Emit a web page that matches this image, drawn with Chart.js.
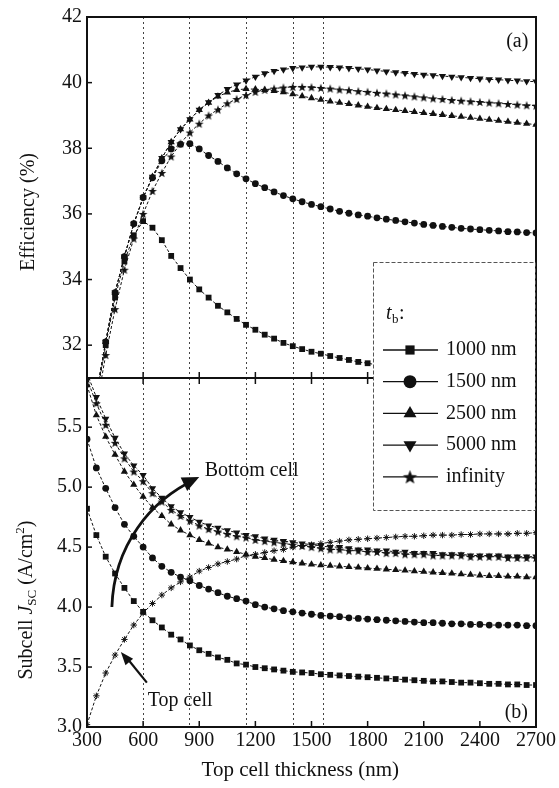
<!DOCTYPE html>
<html>
<head>
<meta charset="utf-8">
<script src="https://cdn.jsdelivr.net/npm/chart.js@4.4.0/dist/chart.umd.min.js"></script>
<style>
  html, body { margin: 0; padding: 0; background: #fff; }
  #wrap { position: relative; width: 559px; height: 788px; }
  #wrap canvas { position: absolute; left: 0; top: 0; }
</style>
</head>
<body>
<div id="wrap">
  <canvas id="eff" width="559" height="788"></canvas>
  <canvas id="jsc" width="559" height="788"></canvas>
</div>
<script>
// Top cell thickness (nm)
const thickness = [
  300, 350, 400, 450, 500, 550, 600, 650, 700, 750,
  800, 850, 900, 950, 1000, 1050, 1100, 1150, 1200, 1250,
  1300, 1350, 1400, 1450, 1500, 1550, 1600, 1650, 1700, 1750,
  1800, 1850, 1900, 1950, 2000, 2050, 2100, 2150, 2200, 2250,
  2300, 2350, 2400, 2450, 2500, 2550, 2600, 2650, 2700,
];

// (a) efficiency (%) for each bottom cell thickness t_b
const eff1000 = [
  28.8, 30.4, 32.0, 33.45, 34.55, 35.35, 35.78, 35.58, 35.2, 34.72,
  34.35, 34.0, 33.7, 33.45, 33.2, 33.0, 32.8, 32.62, 32.47, 32.32,
  32.2, 32.07, 31.97, 31.88, 31.8, 31.74, 31.67, 31.61, 31.55, 31.49,
  31.45, 31.4, 31.36, 31.32, 31.28, 31.25, 31.22, 31.19, 31.16, 31.14,
  31.12, 31.1, 31.08, 31.06, 31.04, 31.03, 31.02, 31.01, 31.0,
];
const eff1500 = [
  29.0, 30.5, 32.1, 33.6, 34.7, 35.7, 36.5, 37.1, 37.62, 37.98,
  38.12, 38.14, 37.98, 37.78, 37.6, 37.4, 37.22, 37.07, 36.92, 36.8,
  36.67, 36.56, 36.46, 36.37, 36.29, 36.22, 36.15, 36.08, 36.02, 35.97,
  35.93, 35.88, 35.84, 35.8, 35.76, 35.72, 35.68, 35.65, 35.62, 35.59,
  35.56, 35.54, 35.52, 35.5, 35.48, 35.46, 35.45, 35.43, 35.42,
];
const eff2500 = [
  29.0, 30.5, 32.1, 33.6, 34.7, 35.7, 36.5, 37.13, 37.7, 38.19,
  38.58, 38.88, 39.17, 39.39, 39.58, 39.7, 39.78, 39.81, 39.8, 39.78,
  39.75, 39.71, 39.65, 39.59, 39.53, 39.48, 39.43, 39.39, 39.35, 39.31,
  39.27, 39.23, 39.2, 39.17, 39.14, 39.11, 39.08, 39.05, 39.02, 38.99,
  38.96, 38.93, 38.9, 38.87, 38.84, 38.81, 38.78, 38.75, 38.72,
];
const eff5000 = [
  29.0, 30.5, 32.1, 33.6, 34.7, 35.7, 36.5, 37.13, 37.7, 38.19,
  38.58, 38.88, 39.17, 39.4, 39.62, 39.8, 39.94, 40.06, 40.18, 40.28,
  40.35, 40.4, 40.44, 40.46, 40.48, 40.48, 40.47, 40.46, 40.44, 40.42,
  40.4, 40.37, 40.34, 40.31, 40.29, 40.26, 40.24, 40.22, 40.2, 40.18,
  40.16, 40.14, 40.12, 40.1, 40.09, 40.07, 40.06, 40.04, 40.03,
];
const effInf = [
  28.6, 30.1, 31.7, 33.1, 34.3, 35.25, 36.0, 36.7, 37.25, 37.75,
  38.15, 38.48, 38.75, 39.0, 39.18, 39.37, 39.5, 39.62, 39.72, 39.78,
  39.82, 39.85, 39.87, 39.87, 39.86, 39.84, 39.82, 39.79, 39.77, 39.74,
  39.72, 39.69, 39.67, 39.64, 39.61, 39.58, 39.55, 39.52, 39.5, 39.47,
  39.45, 39.43, 39.41, 39.39, 39.37, 39.35, 39.33, 39.31, 39.3,
];

// (b) subcell Jsc (A/cm2): bottom cell for each t_b, and the top cell
const jsc1000 = [
  4.82, 4.6, 4.42, 4.28, 4.16, 4.05, 3.96, 3.89, 3.83, 3.77,
  3.73, 3.68, 3.64, 3.61, 3.58, 3.56, 3.53, 3.52, 3.5, 3.49,
  3.48, 3.47, 3.46, 3.455, 3.45, 3.44, 3.435, 3.43, 3.425, 3.42,
  3.415, 3.41, 3.405, 3.4, 3.395, 3.39, 3.385, 3.38, 3.38, 3.375,
  3.37, 3.37, 3.365, 3.36, 3.36, 3.355, 3.355, 3.35, 3.35,
];
const jsc1500 = [
  5.4, 5.16, 4.99, 4.83, 4.69, 4.59, 4.5, 4.41, 4.34, 4.29,
  4.25, 4.22, 4.18, 4.15, 4.12, 4.09, 4.07, 4.05, 4.02, 4.0,
  3.985, 3.97, 3.96, 3.95, 3.94, 3.93, 3.925, 3.92, 3.91, 3.905,
  3.9, 3.895, 3.89, 3.885, 3.88, 3.875, 3.87, 3.87, 3.865, 3.86,
  3.86, 3.855, 3.855, 3.85, 3.85, 3.85, 3.85, 3.845, 3.845,
];
const jsc2500 = [
  5.85, 5.6, 5.42, 5.27, 5.13, 5.02, 4.92, 4.83, 4.76, 4.69,
  4.64, 4.6, 4.56, 4.53, 4.5, 4.48, 4.46, 4.44, 4.42, 4.41,
  4.395, 4.385, 4.375, 4.365, 4.355, 4.35, 4.345, 4.34, 4.335, 4.33,
  4.325, 4.32, 4.315, 4.31, 4.305, 4.3, 4.295, 4.29, 4.285, 4.28,
  4.275, 4.27, 4.265, 4.26, 4.26, 4.255, 4.255, 4.25, 4.25,
];
const jsc5000 = [
  5.95, 5.75, 5.57, 5.41, 5.28, 5.18, 5.1, 4.99, 4.91, 4.84,
  4.79, 4.75, 4.71, 4.68, 4.66, 4.64, 4.62, 4.6, 4.59, 4.57,
  4.56, 4.55, 4.54, 4.53, 4.52, 4.51, 4.5, 4.5, 4.49, 4.48,
  4.48, 4.47, 4.47, 4.46, 4.46, 4.45, 4.45, 4.45, 4.44, 4.44,
  4.44, 4.43, 4.43, 4.43, 4.43, 4.42, 4.42, 4.42, 4.42,
];
const jscInf = [
  5.9, 5.7, 5.52, 5.37, 5.24, 5.13, 5.05, 4.95, 4.88, 4.81,
  4.76, 4.72, 4.68, 4.65, 4.63, 4.61, 4.59, 4.58, 4.56, 4.55,
  4.54, 4.53, 4.52, 4.51, 4.5, 4.49, 4.48, 4.48, 4.47, 4.47,
  4.46, 4.46, 4.45, 4.45, 4.44, 4.44, 4.44, 4.43, 4.43, 4.43,
  4.43, 4.42, 4.42, 4.42, 4.42, 4.41, 4.41, 4.41, 4.41,
];
const jscTop = [
  3.02, 3.26, 3.45, 3.6, 3.73, 3.85, 3.95, 4.03, 4.1, 4.16,
  4.21, 4.25, 4.3, 4.33, 4.36, 4.38, 4.4, 4.43, 4.44, 4.455,
  4.47, 4.48, 4.5, 4.51, 4.52, 4.53, 4.54, 4.55, 4.56, 4.565,
  4.57, 4.575, 4.58, 4.585, 4.59, 4.59, 4.595, 4.6, 4.6, 4.6,
  4.605, 4.605, 4.61, 4.61, 4.61, 4.61, 4.615, 4.615, 4.62,
];

// current-matching thicknesses (vertical dotted lines)
const matchPoints = [600, 845, 1150, 1400, 1560];

// tick values
const xTicks = [300, 600, 900, 1200, 1500, 1800, 2100, 2400, 2700];
const effTicks = [32, 34, 36, 38, 40, 42];
const jscTicks = [3.0, 3.5, 4.0, 4.5, 5.0, 5.5];

const legendLabels = ['1000 nm', '1500 nm', '2500 nm', '5000 nm', 'infinity'];

const ink = '#111';
const serif = '"Liberation Serif", "Times New Roman", serif';

Chart.defaults.font.family = serif;
Chart.defaults.font.size = 20;
Chart.defaults.color = ink;

// filled five-point star used as a point style
function starImage(r) {
  const c = document.createElement('canvas');
  const s = Math.ceil(r * 2 + 2);
  c.width = s;
  c.height = s;
  const g = c.getContext('2d');
  g.fillStyle = ink;
  g.beginPath();
  for (let i = 0; i < 10; i++) {
    const rad = i % 2 ? r * 0.42 : r;
    const a = -Math.PI / 2 + i * Math.PI / 5;
    const px = s / 2 + rad * Math.cos(a);
    const py = s / 2 + rad * Math.sin(a) + r * 0.1;
    if (i) g.lineTo(px, py); else g.moveTo(px, py);
  }
  g.closePath();
  g.fill();
  return c;
}
const starSmall = starImage(4.6);
const starBig = starImage(7.5);

// marker styles, one per t_b
const markers = [
  { pointStyle: 'rect', rotation: 0, radius: 4.1, legendRadius: 6.5 },
  { pointStyle: 'circle', rotation: 0, radius: 3.4, legendRadius: 6.5 },
  { pointStyle: 'triangle', rotation: 0, radius: 4.2, legendRadius: 7.5 },
  { pointStyle: 'triangle', rotation: 180, radius: 4.2, legendRadius: 7.5 },
  { pointStyle: starSmall, rotation: 0, radius: 4.6, legendRadius: 7.5, legendStyle: starBig },
];

const series = (label, values, m, extra = {}) => ({
  label,
  data: thickness.map((t, i) => ({ x: t, y: values[i] })),
  borderColor: ink,
  backgroundColor: ink,
  borderWidth: 1,
  borderDash: [3, 2],
  pointStyle: m.pointStyle,
  pointRotation: m.rotation,
  pointRadius: m.radius,
  pointBorderWidth: 0,
  pointBackgroundColor: ink,
  pointBorderColor: ink,
  tension: 0,
  ...extra,
});

// text helper: pieces laid out along a vertical (rotated) baseline
function verticalText(ctx, parts, cx, cy) {
  ctx.save();
  ctx.translate(cx, cy);
  ctx.rotate(-Math.PI / 2);
  ctx.textBaseline = 'alphabetic';
  ctx.textAlign = 'left';
  let total = 0;
  parts.forEach((p) => { ctx.font = p.font; total += ctx.measureText(p.text).width; });
  let pos = -total / 2;
  parts.forEach((p) => {
    ctx.font = p.font;
    ctx.fillText(p.text, pos, 7 + (p.dy || 0));
    pos += ctx.measureText(p.text).width;
  });
  ctx.restore();
}

function arrowHead(ctx, tipX, tipY, angle, len, half) {
  ctx.beginPath();
  ctx.moveTo(tipX, tipY);
  ctx.lineTo(tipX - len * Math.cos(angle) + half * Math.sin(angle), tipY - len * Math.sin(angle) - half * Math.cos(angle));
  ctx.lineTo(tipX - len * Math.cos(angle) - half * Math.sin(angle), tipY - len * Math.sin(angle) + half * Math.cos(angle));
  ctx.closePath();
  ctx.fill();
}

// frame, inward ticks, guide lines and per-panel extras
const framePlugin = {
  id: 'frame',
  beforeDatasetsDraw(chart) {
    const { ctx, chartArea: a, scales: { x } } = chart;
    ctx.save();
    ctx.strokeStyle = '#444';
    ctx.lineWidth = 1;
    ctx.setLineDash([2, 3]);
    matchPoints.forEach((t) => {
      const px = Math.round(x.getPixelForValue(t)) + 0.5;
      ctx.beginPath();
      ctx.moveTo(px, a.top);
      ctx.lineTo(px, a.bottom);
      ctx.stroke();
    });
    ctx.restore();
  },
  afterDraw(chart, args, opts) {
    const { ctx, chartArea: a, scales: { x, y } } = chart;
    ctx.save();
    ctx.strokeStyle = ink;
    ctx.fillStyle = ink;
    ctx.lineWidth = 2;
    ctx.strokeRect(a.left, a.top, a.right - a.left, a.bottom - a.top);

    // inward ticks
    ctx.lineWidth = 1.5;
    xTicks.forEach((v) => {
      const px = x.getPixelForValue(v);
      ctx.beginPath();
      ctx.moveTo(px, a.bottom);
      ctx.lineTo(px, a.bottom - 6);
      if (opts.topTicks) {
        ctx.moveTo(px, a.top);
        ctx.lineTo(px, a.top + 6);
      }
      ctx.stroke();
    });
    opts.yTicks.forEach((v) => {
      const py = y.getPixelForValue(v);
      ctx.beginPath();
      ctx.moveTo(a.left, py);
      ctx.lineTo(a.left + 5, py);
      ctx.stroke();
    });

    // y axis title
    verticalText(ctx, opts.yTitle, opts.yTitlePos[0], opts.yTitlePos[1]);

    // panel label
    ctx.font = `20px ${serif}`;
    ctx.textAlign = 'center';
    ctx.textBaseline = 'middle';
    ctx.fillText(opts.panel.text, x.getPixelForValue(opts.panel.x), y.getPixelForValue(opts.panel.y));

    if (opts.extras) opts.extras(chart);
    ctx.restore();
  },
};

const yAxis = (min, max, ticks, fmt) => ({
  min,
  max,
  afterFit: (s) => { s.width = 87; },
  afterBuildTicks: (s) => { s.ticks = ticks.map((v) => ({ value: v })); },
  grid: { display: false, drawTicks: false },
  border: { display: false },
  ticks: { padding: 5, font: { size: 20 }, callback: fmt },
});

// (a) efficiency panel
new Chart(document.getElementById('eff'), {
  type: 'line',
  data: {
    datasets: [
      series('1000 nm', eff1000, markers[0]),
      series('1500 nm', eff1500, markers[1]),
      series('2500 nm', eff2500, markers[2]),
      series('5000 nm', eff5000, markers[3]),
      series('infinity', effInf, markers[4]),
    ],
  },
  options: {
    responsive: false,
    animation: false,
    events: [],
    layout: { padding: { top: 15, right: 23, bottom: 410, left: 0 } },
    scales: {
      x: { type: 'linear', min: 300, max: 2700, display: false },
      y: yAxis(31, 42, effTicks, (v) => String(v)),
    },
    plugins: {
      legend: { display: false },
      tooltip: { enabled: false },
      frame: {
        topTicks: false,
        yTicks: effTicks,
        yTitle: [{ text: 'Efficiency (%)', font: `20px ${serif}` }],
        yTitlePos: [27, 212],
        panel: { text: '(a)', x: 2600, y: 41.25 },
      },
    },
  },
  plugins: [framePlugin],
});

// (b) subcell Jsc panel, also carries the legend box
new Chart(document.getElementById('jsc'), {
  type: 'line',
  data: {
    datasets: [
      series('Top cell', jscTop, { pointStyle: 'star', rotation: 0, radius: 3.2 }, { pointBorderWidth: 1 }),
      series('1000 nm', jsc1000, markers[0]),
      series('1500 nm', jsc1500, markers[1]),
      series('2500 nm', jsc2500, markers[2]),
      series('5000 nm', jsc5000, markers[3]),
      series('infinity', jscInf, markers[4]),
    ],
  },
  options: {
    responsive: false,
    animation: false,
    events: [],
    layout: { padding: { top: 378, right: 23, bottom: 0, left: 0 } },
    scales: {
      x: {
        type: 'linear',
        min: 300,
        max: 2700,
        afterFit: (s) => { s.height = 61; },
        afterBuildTicks: (s) => { s.ticks = xTicks.map((v) => ({ value: v })); },
        grid: { display: false, drawTicks: false },
        border: { display: false },
        ticks: { padding: 2, maxRotation: 0, font: { size: 20 }, callback: (v) => String(v) },
      },
      y: yAxis(3.0, 5.91, jscTicks, (v) => v.toFixed(1)),
    },
    plugins: {
      legend: { display: false },
      tooltip: { enabled: false },
      frame: {
        topTicks: true,
        yTicks: jscTicks,
        yTitle: [
          { text: 'Subcell ', font: `20px ${serif}` },
          { text: 'J', font: `italic 20px ${serif}` },
          { text: 'SC', font: `13px ${serif}`, dy: 4 },
          { text: ' (A/cm', font: `20px ${serif}` },
          { text: '2', font: `13px ${serif}`, dy: -8 },
          { text: ')', font: `20px ${serif}` },
        ],
        yTitlePos: [25, 600],
        panel: { text: '(b)', x: 2595, y: 3.12 },
        extras: (chart) => {
          const { ctx, scales: { x, y } } = chart;
          const P = (t, v) => [x.getPixelForValue(t), y.getPixelForValue(v)];

          // x axis title, sitting a little left of centre as in the original
          ctx.font = `21px ${serif}`;
          ctx.textAlign = 'center';
          ctx.textBaseline = 'middle';
          ctx.fillText('Top cell thickness (nm)', x.getPixelForValue(1440), 770);

          // "Bottom cell" curved arrow
          const b0 = P(433, 4.0), b1 = P(444, 4.52), b2 = P(641, 4.89), b3 = P(880, 5.065);
          ctx.lineWidth = 2.8;
          ctx.beginPath();
          ctx.moveTo(...b0);
          ctx.bezierCurveTo(...b1, ...b2, ...b3);
          ctx.stroke();
          const bTip = P(900, 5.085);
          arrowHead(ctx, bTip[0], bTip[1], Math.atan2(bTip[1] - b2[1], bTip[0] - b2[0]), 17, 7.5);

          // "Top cell" straight arrow
          const t0 = P(620, 3.37), t1 = P(481, 3.625);
          ctx.lineWidth = 2.2;
          ctx.beginPath();
          ctx.moveTo(...t0);
          ctx.lineTo(t1[0] + 6, t1[1] + 6);
          ctx.stroke();
          arrowHead(ctx, t1[0], t1[1], Math.atan2(t1[1] - t0[1], t1[0] - t0[0]), 13, 5);

          ctx.font = `20px ${serif}`;
          ctx.textAlign = 'left';
          ctx.textBaseline = 'middle';
          ctx.fillText('Bottom cell', ...P(929, 5.14));
          ctx.fillText('Top cell', ...P(625, 3.22));

          // legend box
          const lx = 373, ly = 262, lw = 162, lh = 248;
          ctx.fillStyle = '#fff';
          ctx.fillRect(lx, ly, lw, lh);
          ctx.strokeStyle = '#555';
          ctx.lineWidth = 1;
          ctx.setLineDash([4, 2]);
          ctx.strokeRect(lx + 0.5, ly + 0.5, lw, lh);
          ctx.setLineDash([]);
          ctx.fillStyle = ink;
          ctx.strokeStyle = ink;

          ctx.textBaseline = 'alphabetic';
          ctx.font = `italic 20px ${serif}`;
          ctx.fillText('t', 386, 319);
          ctx.font = `13px ${serif}`;
          ctx.fillText('b', 392, 323);
          ctx.font = `20px ${serif}`;
          ctx.fillText(':', 399, 319);

          ctx.textBaseline = 'middle';
          legendLabels.forEach((label, i) => {
            const ry = 350 + i * 31.7;
            const m = markers[i];
            ctx.lineWidth = 1.3;
            ctx.beginPath();
            ctx.moveTo(383, ry);
            ctx.lineTo(438, ry);
            ctx.stroke();
            ctx.lineWidth = 1;
            Chart.helpers.drawPoint(ctx, {
              pointStyle: m.legendStyle || m.pointStyle,
              rotation: m.rotation,
              radius: m.legendRadius,
              borderWidth: 0,
            }, 410, ry);
            ctx.fillText(label, 446, ry);
          });
        },
      },
    },
  },
  plugins: [framePlugin],
});
</script>
</body>
</html>
